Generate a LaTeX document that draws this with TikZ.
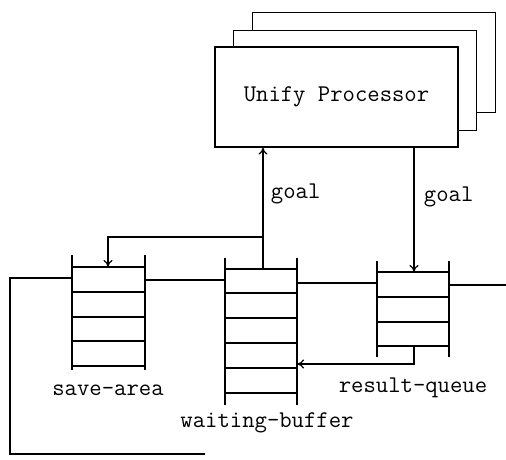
\documentclass[tikz,border=0pt]{standalone}
\usepackage{fontspec}
\usetikzlibrary{arrows.meta}

\tikzset{
  procbox/.style={draw, fill=white, minimum width=243pt, minimum height=100pt},
  lbl/.style={font=\ttfamily\fontsize{24}{28}\selectfont},
}

\begin{document}
\begin{tikzpicture}[x=1pt,y=-1pt,line width=1.2pt,>={To[length=7pt,width=9pt]}]
    \useasboundingbox (0,0) rectangle (506,459);

    % the processors, two more behind the front one
    \node[procbox] (procC) at (374,62.5) {};
    \node[procbox] (procB) at (355,80.5) {};
    \node[procbox, lbl] (proc) at (336.5,97) {Unify Processor};

    % save-area
    \draw (72,255) -- (72,370);
    \draw (145,255) -- (145,370);
    \foreach \y in {267,292,317,341,366} \draw (72,\y) -- (145,\y);
    \node[lbl] (save) at (108,390) {save-area};

    % waiting-buffer
    \draw (225,258) -- (225,405);
    \draw (297,258) -- (297,405);
    \foreach \y in {269,293,318,343,368,393} \draw (225,\y) -- (297,\y);
    \node[lbl] (wait) at (267,423) {waiting-buffer};

    % result-queue
    \draw (377,261) -- (377,357);
    \draw (449,261) -- (449,357);
    \foreach \y in {272,297,322,346} \draw (377,\y) -- (449,\y);
    \node[lbl] (result) at (413,388) {result-queue};

    \coordinate (satop) at (108,267);
    \coordinate (wbtop) at (263,269);
    \coordinate (wbside) at (297,364);
    \coordinate (rqtop) at (414,272);
    \coordinate (rqbot) at (414,346);
    \coordinate (fork) at (263,237);

    \draw[->] (wbtop) -- (wbtop |- proc.south) node[lbl, pos=0.62, right=4pt] {goal};
    \draw[->] (fork) -| (satop);
    \draw[->] (rqtop |- proc.south) -- (rqtop) node[lbl, pos=0.4, right=6pt] {goal};
    \draw[->] (rqbot) |- (wbside);

    % the bus between the queues
    \draw (72,278) -- (10,278) -- (10,454) -- (205,454);
    \draw (145,280) -- (225,280);
    \draw (297,283) -- (377,283);
    \draw (449,285) -- (506,285);
\end{tikzpicture}
\end{document}
